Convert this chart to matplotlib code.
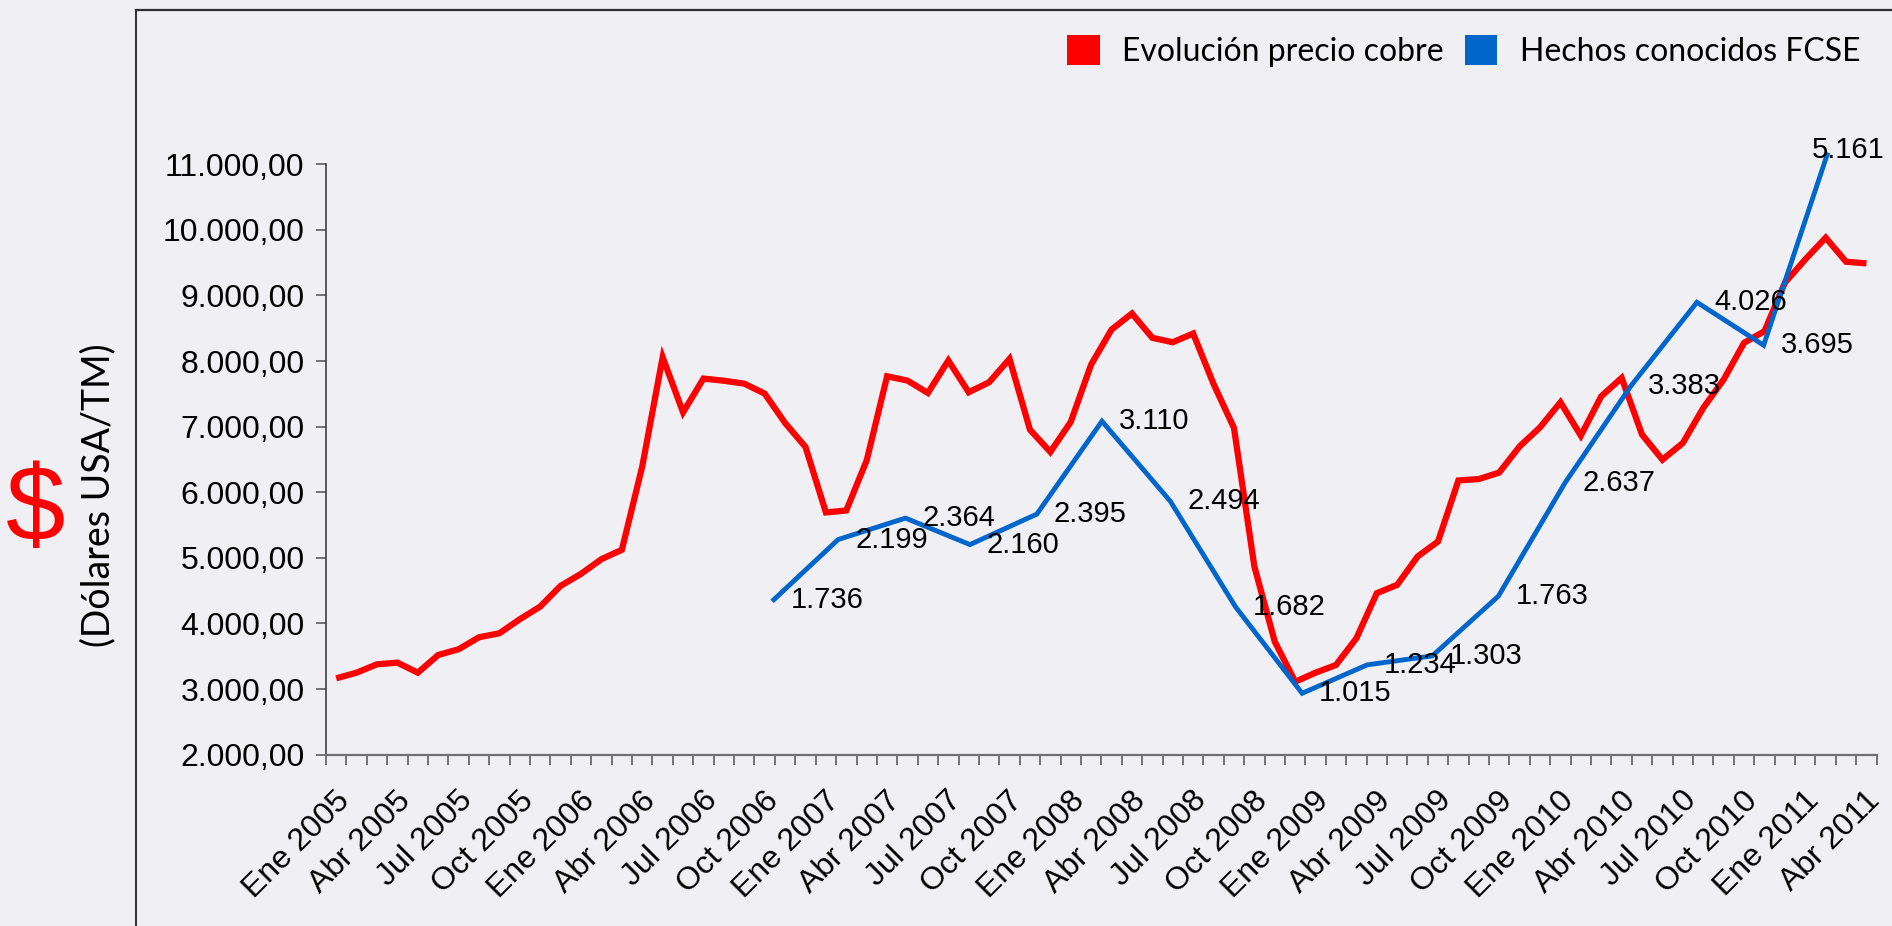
import numpy as np
import matplotlib
matplotlib.use("Agg")
import matplotlib.pyplot as plt
from matplotlib.patches import Patch
from matplotlib.lines import Line2D
from matplotlib.ticker import FixedLocator, FuncFormatter
from matplotlib.transforms import ScaledTranslation
from matplotlib.font_manager import FontProperties

# ---------------- data ----------------
# Monthly copper price (USD/TM), Ene 2005 .. Abr 2011
copper_price = [
    3163, 3249, 3377, 3402, 3249, 3519, 3606, 3789, 3850, 4064, 4257, 4573,
    4756, 4980, 5122, 6394, 8058, 7218, 7733, 7700, 7656, 7504, 7056, 6690,
    5692, 5722, 6486, 7768, 7702, 7514, 8008, 7524, 7677, 8033, 6954, 6614,
    7072, 7947, 8480, 8725, 8354, 8287, 8420, 7650, 6980, 4867, 3722, 3111,
    3249, 3366, 3774, 4461, 4588, 5020, 5249, 6180, 6201, 6300, 6699, 6989,
    7371, 6863, 7463, 7743, 6878, 6496, 6751, 7285, 7718, 8278, 8455, 9194,
    9550, 9881, 9514, 9489,
]
# Known facts FCSE (secondary, hidden scale); position in month units
fcse_pos = [21.45, 24.6, 27.9, 31.06, 34.34, 37.53, 40.88, 44.07, 47.34,
            50.53, 53.72, 56.96, 60.23, 63.46, 66.69, 69.96, 73.07]
fcse_values = [1736, 2199, 2364, 2160, 2395, 3110, 2494, 1682, 1015,
               1234, 1303, 1763, 2637, 3383, 4026, 3695, 5161]

tick_labels = ["Ene 2005", "Abr 2005", "Jul 2005", "Oct 2005",
               "Ene 2006", "Abr 2006", "Jul 2006", "Oct 2006",
               "Ene 2007", "Abr 2007", "Jul 2007", "Oct 2007",
               "Ene 2008", "Abr 2008", "Jul 2008", "Oct 2008",
               "Ene 2009", "Abr 2009", "Jul 2009", "Oct 2009",
               "Ene 2010", "Abr 2010", "Jul 2010", "Oct 2010",
               "Ene 2011", "Abr 2011"]
y_ticks = [2000, 3000, 4000, 5000, 6000, 7000, 8000, 9000, 10000, 11000]

series_names = ["Evolución precio cobre", "Hechos conocidos FCSE"]

# ---------------- style ----------------
W, H = 1892, 926
DPI = 100
BG = "#F0F0F4"
RED = "#FF0000"
BLUE = "#0066CC"
ARIAL = "Liberation Sans"
CALIBRI = "Lato"

fig = plt.figure(figsize=(W / DPI, H / DPI), dpi=DPI, facecolor=BG)

y_lo, y_hi = 2000, 11500
px_per_unit = 65.59 / 1000.0
ax_left, ax_right, ax_bottom = 326, 1876.7, 754.6
ax_top = ax_bottom - (y_hi - y_lo) * px_per_unit
ax = fig.add_axes([ax_left / W, (H - ax_bottom) / H,
                   (ax_right - ax_left) / W, (ax_bottom - ax_top) / H])
ax.set_facecolor("none")

n = len(copper_price)
months = np.arange(n)
ax.plot(months, copper_price, color=RED, lw=4.5, solid_joinstyle="miter",
        solid_capstyle="butt", zorder=3)
ax.set_xlim(-0.5, n - 0.5)
ax.set_ylim(y_lo, y_hi)

# axes styling
for s in ["top", "right"]:
    ax.spines[s].set_visible(False)
ax.spines["left"].set_bounds(2000, 11000)
ax.spines["left"].set_color("#303030")
ax.spines["left"].set_linewidth(1.1)
ax.spines["bottom"].set_color("#707070")
ax.spines["bottom"].set_linewidth(1.6)

ax.yaxis.set_major_locator(FixedLocator(y_ticks))
def es_fmt(v, pos=None):
    s = f"{v:,.2f}"
    return s.replace(",", "X").replace(".", ",").replace("X", ".")
ax.yaxis.set_major_formatter(FuncFormatter(es_fmt))
ax.tick_params(axis="y", which="major", direction="out", length=7.5, width=1.1,
               color="#505050", pad=8, labelsize=23, labelfontfamily=ARIAL)

ax.xaxis.set_major_locator(FixedLocator(np.arange(0, n, 3)))
ax.xaxis.set_minor_locator(FixedLocator(np.arange(-0.5, n, 1)))
ax.set_xticklabels(tick_labels, rotation=45, ha="right", va="center",
                   rotation_mode="anchor", fontsize=23, family=ARIAL)
ax.tick_params(axis="x", which="major", length=0, pad=30)
ax.tick_params(axis="x", which="minor", direction="out", length=7.5, width=1.1,
               color="#505050")
for lbl in ax.get_xticklabels():
    lbl.set_transform(lbl.get_transform() +
                      ScaledTranslation(9 / DPI, 0, fig.dpi_scale_trans))

# secondary hidden axis for FCSE facts
map_a, map_b = 925.0, 1.98
ax2 = ax.twinx()
ax2.set_ylim((y_lo - map_a) / map_b, (y_hi - map_a) / map_b)
ax2.set_xlim(ax.get_xlim())
for s in ax2.spines.values():
    s.set_visible(False)
ax2.set_yticks([])
ax2.plot(fcse_pos, fcse_values, color=BLUE, lw=3.5, solid_joinstyle="miter",
         clip_on=False, zorder=4)

# data labels, kept inside the chart area like the original tool does
fig.canvas.draw()
renderer = fig.canvas.get_renderer()
label_fp = FontProperties(family=ARIAL, size=21)
gap_px = 17
right_limit = W - 7
for xp, v in zip(fcse_pos, fcse_values):
    txt = f"{v:,}".replace(",", ".")
    px = ax2.transData.transform((xp, v))[0]
    tw, th, td = renderer.get_text_width_height_descent(txt, label_fp, ismath=False)
    if px + gap_px + tw > right_limit:
        dx_px = right_limit - px
        ha = "right"
        dy_px = 5
    else:
        dx_px = gap_px
        ha = "left"
        dy_px = 0
    ax2.annotate(txt, (xp, v), xytext=(dx_px * 72 / DPI, dy_px * 72 / DPI),
                 textcoords="offset points", ha=ha, va="center",
                 fontproperties=label_fp, color="black", zorder=5,
                 annotation_clip=False)

# legend
handles = [Patch(facecolor=RED, edgecolor="none"),
           Patch(facecolor=BLUE, edgecolor="none")]
fig.legend(handles, series_names, loc="center right",
           bbox_to_anchor=(1860 / W, 1 - 51 / H), ncol=2, frameon=False,
           prop=FontProperties(family=CALIBRI, size=23),
           handlelength=1.03, handleheight=1.07, handletextpad=0.69,
           columnspacing=0.66, borderpad=0, borderaxespad=0)

# y axis title
fig.text(98 / W, 1 - 495.5 / H, "(Dólares USA/TM)", rotation=90,
         ha="center", va="center", fontsize=27, family=CALIBRI, color="black")
fig.text(36 / W, 1 - 513 / H, "$", ha="center", va="center",
         fontsize=77, family=ARIAL, color=RED)

# chart-area frame (left and top visible)
fig.add_artist(Line2D([136 / W, 136 / W], [0, 1 - 10 / H],
                      transform=fig.transFigure, color="#303030", lw=1.4))
fig.add_artist(Line2D([136 / W, 1], [1 - 10 / H, 1 - 10 / H],
                      transform=fig.transFigure, color="#303030", lw=1.6))

fig.savefig("out.png", dpi=DPI, facecolor=BG)
